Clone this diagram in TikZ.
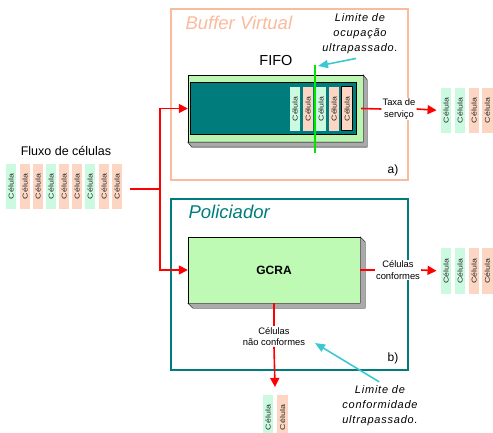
\documentclass[tikz,border=0pt]{standalone}
\usepackage{fontspec}
\setmainfont{Liberation Sans}
\usepackage{tikz}
\usetikzlibrary{arrows.meta,positioning}
\definecolor{menta}{RGB}{204,250,224}
\definecolor{pessego}{RGB}{252,214,194}
\definecolor{salmao}{RGB}{250,186,156}
\definecolor{petroleo}{RGB}{0,124,124}
\definecolor{verdefifo}{RGB}{186,246,176}
\definecolor{verdeclaro}{RGB}{190,250,180}
\definecolor{cinza}{RGB}{170,170,170}
\definecolor{ciano}{RGB}{60,200,210}
\definecolor{verde}{RGB}{0,230,0}
\newcommand{\cel}{\scalebox{1.26}[1]{Célula}}

\begin{document}
\begin{tikzpicture}[x=1pt,y=-1pt,
  celula/.style={rotate=90,fill=#1,minimum width=45,minimum height=10.5,inner sep=0pt,
    font=\fontsize{7}{8}\selectfont,text=black!85},
  moldura/.style={draw=#1,line width=1.5pt,minimum width=237,minimum height=171},
  rotulo/.style={fill=white,inner sep=1pt,align=center,font=\fontsize{9.4}{11.5}\selectfont},
  nota/.style={align=center,font=\fontsize{11}{15}\selectfont\itshape\addfontfeature{LetterSpace=7}},
  titulo/.style={anchor=west,text=#1,font=\fontsize{18.5}{20}\selectfont\itshape},
  fluxo/.style={red,line width=1.6pt},
  seta/.style={fluxo,-{Triangle[length=9pt,width=9pt]}},
  aviso/.style={ciano,line width=1.6pt,-{Triangle[length=10pt,width=8pt]}}]
  \useasboundingbox (0,0) rectangle (493,433);

  \node[moldura=salmao] (buffer) at (289.5,94.5) {};
  \node[moldura=petroleo] (policiador) at (289.5,284.5) {};
  \node[titulo=salmao] (tbuffer) at (182,23) {Buffer Virtual};
  \node[titulo=petroleo] (tpol) at (185,212) {Policiador};
  \node[font=\fontsize{12}{14}\selectfont] (a) at (393,170) {a)};
  \node[font=\fontsize{12}{14}\selectfont] (b) at (393,358) {b)};

  \node[font=\fontsize{12.5}{14}\selectfont] (tfluxo) at (66,151) {Fluxo de células};
  \foreach \x/\c [count=\i] in {11/menta,25/pessego,38/pessego,51/menta,64/pessego,77/pessego,90/menta,104/pessego,117/pessego}
    \node[celula=\c] (f\i) at (\x,186.5) {\cel};

  \node[draw,fill=verdefifo,minimum width=175,minimum height=67,inner sep=0pt] (fifo) at (275.5,108.5) {};
  \fill[cinza,draw=black,line width=.4pt] (fifo.south west) -- ([shift={(4,5)}]fifo.south west)
    -- ([shift={(4,5)}]fifo.south east) -- ([shift={(4,5)}]fifo.north east) -- (fifo.north east)
    -- (fifo.south east) -- cycle;
  \node[draw,fill=petroleo,minimum width=166.5,minimum height=52,inner sep=0pt,anchor=west] (fila) at (189.5,108) {};
  \foreach \x/\c [count=\i] in {295/menta,308/pessego,321/menta,334/pessego}
    \node[celula=\c,minimum width=44] (q\i) at (\x,108.8) {\cel};
  \node[celula=pessego,draw=black,line width=.8pt,minimum width=44,minimum height=11] (q5) at (347,108.8) {\cel};
  \node[font=\fontsize{14.5}{16}\selectfont] (tfifo) at (276,61) {FIFO};
  \draw[verde,line width=1.6pt] (315,65) -- (315,153);

  \node[draw,fill=verdeclaro,minimum width=172,minimum height=66,inner sep=0pt,
    font=\fontsize{12}{14}\selectfont\bfseries] (gcra) at (274,270) {GCRA};
  \fill[cinza,draw=black,line width=.4pt] (gcra.south west) -- ([shift={(5,5)}]gcra.south west)
    -- ([shift={(5,5)}]gcra.south east) -- ([shift={(5,5)}]gcra.north east) -- (gcra.north east)
    -- (gcra.south east) -- cycle;

  \node[rotulo] (taxa) at (399,109) {Taxa de\\serviço};
  \node[rotulo] (conf) at (398,270) {Células\\conformes};
  \node[rotulo] (naoconf) at (274,336.5) {Células\\não conformes};

  \foreach \x/\c [count=\i] in {446/menta,460/menta,474/pessego,487.3/pessego}
    \node[celula=\c] (s\i) at (\x,110.5) {\cel};
  \foreach \x/\c [count=\i] in {446/menta,460/menta,474/pessego,487.3/pessego}
    \node[celula=\c,minimum width=46] (p\i) at (\x,271) {\cel};
  \node[celula=menta] (d1) at (268,417.5) {\cel};
  \node[celula=pessego] (d2) at (282.5,417.5) {\cel};

  \coordinate (entrada) at (130,189);
  \coordinate (ramo) at (160,189);
  \coordinate (descarte) at (275,387);
  \draw[fluxo] (entrada) -- (ramo);
  \draw[seta] (ramo) |- (fifo.west);
  \draw[seta] (ramo) |- (gcra.west);
  \draw[fluxo] ([xshift=-2pt]fifo.east) -- (taxa.west);
  \draw[seta,shorten >=4pt] (taxa.east) -- (s1.north);
  \draw[fluxo] (gcra.east) -- (conf.west);
  \draw[seta,shorten >=4pt] (conf.east) -- (p1.north);
  \draw[fluxo] (gcra.south) -- (naoconf.north);
  \draw[seta] (naoconf.south) -- (descarte);

  \node[nota] (limite1) at (360,34) {Limite de\\ocupação\\ultrapassado.};
  \node[nota] (limite2) at (380,406) {Limite de\\conformidade\\ultrapassado.};
  \coordinate (lim1) at (318,66);
  \coordinate (lim2) at (315,343);
  \draw[aviso,shorten <=4pt] (limite1.south) -- (lim1);
  \draw[aviso,shorten <=1pt] (limite2.north) -- (lim2);
\end{tikzpicture}
\end{document}
